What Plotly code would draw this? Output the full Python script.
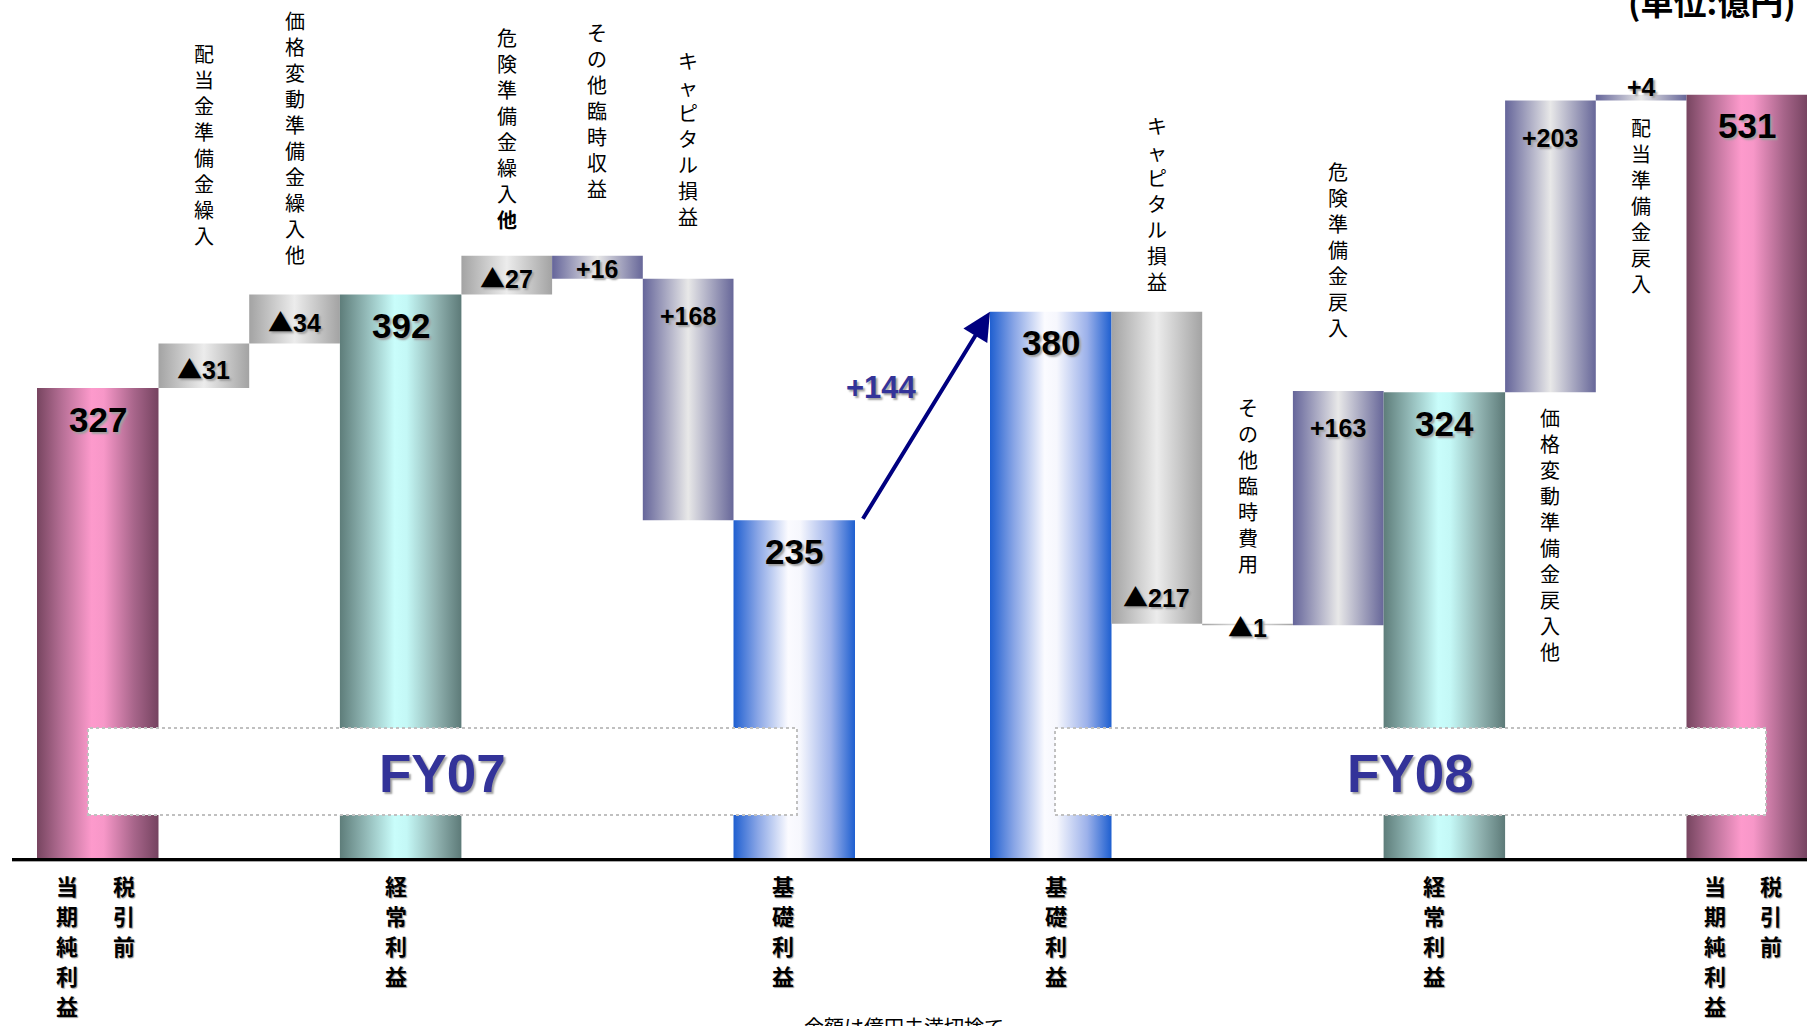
import plotly.graph_objects as go

# ---------------- data (億円) ----------------
FY07_LABELS = ["税引前当期純利益", "配当金準備金繰入", "価格変動準備金繰入他", "経常利益",
               "危険準備金繰入他", "その他臨時収益", "キャピタル損益", "基礎利益"]
FY07_VALUES = [327, -31, -34, 392, -27, 16, 168, 235]
FY07_IS_TOTAL = [True, False, False, True, False, False, False, True]

FY08_LABELS = ["基礎利益", "キャピタル損益", "その他臨時費用", "危険準備金戻入", "経常利益",
               "価格変動準備金戻入他", "配当準備金戻入", "税引前当期純利益"]
FY08_VALUES = [380, -217, -1, 163, 324, 203, 4, 531]
FY08_IS_TOTAL = [True, False, False, False, True, False, False, True]

YEARS = ["FY07", "FY08"]
CORE_PROFIT_CHANGE = 144          # 基礎利益 FY07 -> FY08
UNIT_TEXT = "(単位:億円)"
NOTE_TEXT = "金額は億円未満切捨て"

# FY07 reconciles right-to-left (items are backed out), FY08 left-to-right
STEP_SIGN = [-1, 1]

# axis labels written vertically; long names are split into columns (right column first)
AXIS_COLUMNS = {"税引前当期純利益": ["税引前", "当期純利益"]}

# ---------------- layout / style ----------------
W, H = 1807, 1026
AXIS_ROW = 858            # pixel row of the baseline
X_LEFT = 12
Y_MAX = 597
X_START = 37
WIDE, NARROW, YEAR_GAP = 121.5, 90.7, 135

# vertical axis labels: first glyph centre below the baseline and glyph pitch (px)
AXIS_FIRST, AXIS_PITCH = 27, 30
# horizontal nudges of the axis labels under each total bar (per column)
AXIS_SHIFT = [[[26, -31], [-5], [-11]],
              [[5], [-10], [24, -32]]]

# where each step's value label sits, and where its vertical name goes
VALUE_POS = [["mid", "mid", "mid", "mid", "top"],
             ["bottom", "mid", "top", "top", "edge"]]
NAME_POS = [[("above", 91), ("above", 24), ("above", 20), ("above", 51), ("above", 46)],
            [("above", 14), ("above", 44), ("above", 47), ("below", 9), ("below", 10)]]
NAME_BOLD_LAST = [[False, False, True, False, False],
                  [False, False, False, False, False]]

TOTAL_SCALES = {
    "税引前当期純利益": [[0, "#774560"], [0.2, "#b46e94"], [0.45, "#fd9acc"], [0.55, "#f797c8"],
                 [0.8, "#a7658a"], [1, "#754360"]],
    "経常利益": [[0, "#5e7d7a"], [0.2, "#8fb5b3"], [0.45, "#c9fdfb"], [0.55, "#c4f8f6"],
             [0.8, "#8fb1af"], [1, "#5d7a78"]],
    "基礎利益": [[0, "#1f5fd0"], [0.2, "#8aa6e6"], [0.45, "#fbfbff"], [0.55, "#f6f7fd"],
             [0.8, "#9cb1ea"], [1, "#1e5fd0"]],
}
NEG_SCALE = [[0, "#a3a3a3"], [0.5, "#ececec"], [1, "#a3a3a3"]]
POS_SCALE = [[0, "#65659a"], [0.5, "#e8e8e8"], [1, "#676799"]]

NUM_FONT = "Liberation Sans, Arial, sans-serif"
JP_FONT = "Noto Sans CJK JP, sans-serif"
SHADOW = "2px 2px 2px #a0a0a0"
NAVY = "#000080"
YEAR_BLUE = "#333399"
TRIANGLE = "<span style=\"font-family:'Noto Sans CJK JP'\">▲</span>"


def paper_y(py):
    return (AXIS_ROW - py) / AXIS_ROW


def vertical(text, bold_last=False):
    chars = list(text)
    if bold_last:
        chars[-1] = "<b>" + chars[-1] + "</b>"
    return "<br>".join(chars)


# ---------------- build bar geometry from the values ----------------
bars = []
x = X_START
for yi, (labels, values, totals) in enumerate([(FY07_LABELS, FY07_VALUES, FY07_IS_TOTAL),
                                                (FY08_LABELS, FY08_VALUES, FY08_IS_TOTAL)]):
    if yi == 1:
        x += YEAR_GAP
    level = 0
    step_i = 0
    total_i = 0
    for lab, val, tot in zip(labels, values, totals):
        w = WIDE if tot else NARROW
        if tot:
            level = val
            bars.append(dict(year=yi, label=lab, value=val, total=True, x0=x, x1=x + w,
                             lo=0, hi=val, idx=total_i))
            total_i += 1
        else:
            new = level + STEP_SIGN[yi] * val
            lo, hi = min(level, new), max(level, new)
            level = new
            bars.append(dict(year=yi, label=lab, value=val, total=False, x0=x, x1=x + w,
                             lo=lo, hi=hi, idx=step_i))
            step_i += 1
        x += w

fig = go.Figure()
annotations = []

for b in bars:
    if b["total"]:
        scale = TOTAL_SCALES[b["label"]]
    else:
        scale = NEG_SCALE if b["value"] < 0 else POS_SCALE
    fig.add_trace(go.Scatter(
        x=[b["x0"], b["x1"], b["x1"], b["x0"], b["x0"]],
        y=[b["lo"], b["lo"], b["hi"], b["hi"], b["lo"]],
        mode="lines", line=dict(width=0), fill="toself",
        fillgradient=dict(type="horizontal", colorscale=scale),
        hoverinfo="skip", showlegend=False))

    cx = (b["x0"] + b["x1"]) / 2
    yi, i = b["year"], b["idx"]
    if b["total"]:
        annotations.append(dict(
            x=cx, y=b["hi"], yshift=-31, text=f"<b>{b['value']}</b>", showarrow=False,
            xanchor="center", yanchor="middle",
            font=dict(family=NUM_FONT, size=35, color="black", shadow=SHADOW)))
        # axis label, set vertically one glyph at a time
        cols = AXIS_COLUMNS.get(b["label"], [b["label"]])
        for col, off in zip(cols, AXIS_SHIFT[yi][i]):
            for k, ch in enumerate(col):
                annotations.append(dict(
                    x=cx + off, y=0, yshift=-(AXIS_FIRST + k * AXIS_PITCH), text=ch,
                    showarrow=False, xanchor="center", yanchor="middle",
                    font=dict(family=JP_FONT, size=22, color="black", weight="bold",
                              shadow="1px 1px 1px #9a9a9a")))
    else:
        v = b["value"]
        txt = (TRIANGLE if v < 0 else "+") + str(abs(v))
        pos = VALUE_POS[yi][i]
        if pos == "top":
            vy, sh = b["hi"], -37
        elif pos == "bottom":
            vy, sh = b["lo"], 28
        elif pos == "edge":
            vy, sh = b["hi"], 8
        else:
            vy, sh = (b["lo"] + b["hi"]) / 2, -2
        annotations.append(dict(
            x=cx, y=vy, yshift=sh, text=f"<b>{txt}</b>", showarrow=False,
            xanchor="center", yanchor="middle",
            font=dict(family=NUM_FONT, size=25, color="black", shadow=SHADOW)))

        side, gap = NAME_POS[yi][i]
        if side == "above":
            ny, nsh, anchor = b["hi"], gap, "bottom"
        else:
            ny, nsh, anchor = b["lo"], -gap, "top"
        annotations.append(dict(
            x=cx, y=ny, yshift=nsh, text=vertical(b["label"], NAME_BOLD_LAST[yi][i]),
            showarrow=False, xanchor="center", yanchor=anchor,
            font=dict(family=JP_FONT, size=20, color="black")))

# ---------------- growth arrow between the two 基礎利益 bars ----------------
core07 = [b for b in bars if b["year"] == 0 and b["total"]][-1]
core08 = [b for b in bars if b["year"] == 1 and b["total"]][0]
annotations.append(dict(
    x=core08["x0"], y=core08["hi"], ax=core07["x1"] + 7, ay=core07["hi"],
    xref="x", yref="y", axref="x", ayref="y", text="", showarrow=True,
    arrowhead=2, arrowsize=1.4, arrowwidth=4, arrowcolor=NAVY, standoff=0))
annotations.append(dict(
    x=(core07["x1"] + core08["x0"]) / 2, y=(core07["hi"] + core08["hi"]) / 2,
    xshift=-41, yshift=29, text=f"<b>+{CORE_PROFIT_CHANGE}</b>", showarrow=False,
    font=dict(family=NUM_FONT, size=31, color=YEAR_BLUE, shadow=SHADOW)))

# ---------------- fiscal-year boxes ----------------
shapes = []
year_boxes = [(88, 797), (1055, 1766)]
for (bx0, bx1), yr in zip(year_boxes, YEARS):
    shapes.append(dict(type="rect", xref="x", yref="paper", x0=bx0, x1=bx1,
                       y0=paper_y(815), y1=paper_y(728), fillcolor="white",
                       line=dict(color="#c0c0c0", width=2, dash="dot"), layer="above"))
    annotations.append(dict(
        x=(bx0 + bx1) / 2, y=paper_y(773), xref="x", yref="paper", text=f"<b>{yr}</b>",
        showarrow=False, xanchor="center", yanchor="middle",
        font=dict(family=NUM_FONT, size=53, color=YEAR_BLUE, shadow=SHADOW)))

# soft grey under the baseline
shapes.append(dict(type="line", xref="paper", yref="paper", x0=0, x1=1,
                   y0=paper_y(861), y1=paper_y(861), line=dict(color="#a8a8a8", width=2),
                   layer="below"))

annotations.append(dict(
    x=1712, y=paper_y(1), xref="x", yref="paper", text=f"<b>{UNIT_TEXT}</b>",
    showarrow=False, xanchor="center", yanchor="middle",
    font=dict(family=JP_FONT, size=33, color="black")))
annotations.append(dict(
    x=904, y=paper_y(1026), xref="x", yref="paper", text=NOTE_TEXT,
    showarrow=False, xanchor="center", yanchor="middle",
    font=dict(family=JP_FONT, size=20, color="black")))

fig.update_layout(
    width=W, height=H,
    margin=dict(l=X_LEFT, r=0, t=0, b=H - AXIS_ROW, pad=0),
    paper_bgcolor="white", plot_bgcolor="white",
    xaxis=dict(range=[X_LEFT, W], showgrid=False, zeroline=False, showticklabels=False,
               ticks="", showline=True, linecolor="black", linewidth=3, fixedrange=True),
    yaxis=dict(range=[0, Y_MAX], visible=False, fixedrange=True),
    annotations=annotations, shapes=shapes, showlegend=False,
)

fig.write_html("out.html")
